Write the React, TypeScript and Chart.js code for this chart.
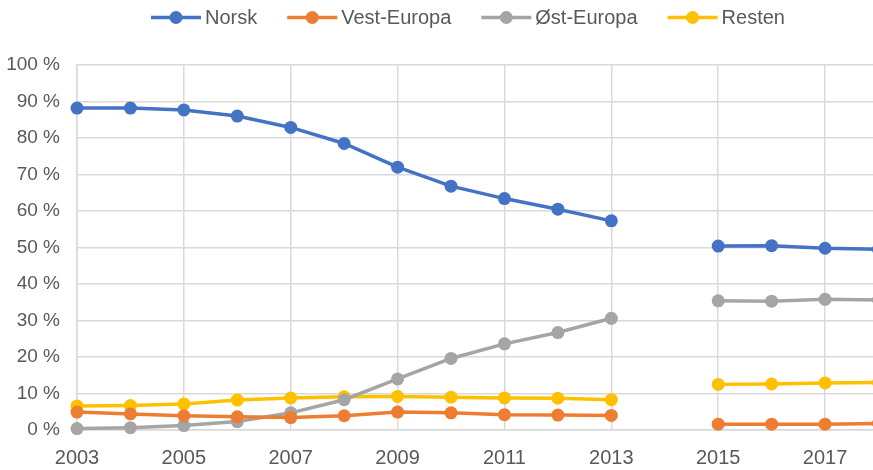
import React, { useEffect, useRef } from 'react';
import { Chart, registerables } from 'chart.js';

Chart.register(...registerables);

const years = ['2003', '2004', '2005', '2006', '2007', '2008', '2009', '2010', '2011', '2012', '2013', '2014', '2015', '2016', '2017', '2018'];
const norsk = [88.2, 88.2, 87.7, 86.0, 82.9, 78.5, 72.0, 66.8, 63.4, 60.5, 57.3, null, 50.4, 50.5, 49.8, 49.5];
const vestEuropa = [4.9, 4.4, 3.9, 3.6, 3.4, 3.9, 4.9, 4.7, 4.2, 4.1, 4.0, null, 1.6, 1.6, 1.6, 1.8];
const ostEuropa = [0.4, 0.65, 1.2, 2.3, 4.7, 8.3, 14.0, 19.6, 23.6, 26.7, 30.6, null, 35.4, 35.3, 35.8, 35.6];
const resten = [6.6, 6.7, 7.1, 8.2, 8.8, 9.1, 9.2, 9.0, 8.8, 8.7, 8.3, null, 12.5, 12.6, 12.9, 13.0];
const seriesNames = ['Norsk', 'Vest-Europa', 'Øst-Europa', 'Resten'];
const seriesColors = ['#4472C4', '#ED7D31', '#A5A5A5', '#FFC000'];
const yMin = 0;
const yMax = 100;
const yStep = 10;

const FONT = '"Liberation Sans", Arial, sans-serif';
const TEXT = '#595959';
const GRID = '#d9d9d9';

const legendPlugin = {
  id: 'customLegend',
  afterDraw(chart: any) {
    const ctx = chart.ctx;
    ctx.save();
    let x = 151;
    const y = 17.5;
    ctx.font = '20px ' + FONT;
    ctx.textBaseline = 'middle';
    ctx.textAlign = 'left';
    chart.data.datasets.forEach((ds: any) => {
      ctx.strokeStyle = ds.borderColor;
      ctx.lineWidth = 3.5;
      ctx.beginPath();
      ctx.moveTo(x, y);
      ctx.lineTo(x + 50, y);
      ctx.stroke();
      ctx.fillStyle = ds.borderColor;
      ctx.beginPath();
      ctx.arc(x + 25, y, 6.5, 0, Math.PI * 2);
      ctx.fill();
      const tx = x + 54;
      const w = ctx.measureText(ds.label).width;
      ctx.fillStyle = TEXT;
      ctx.fillText(ds.label, tx, y + 1);
      x = tx + w + 30;
    });
    ctx.restore();
  },
};

export default function App() {
  const ref = useRef<HTMLCanvasElement | null>(null);
  useEffect(() => {
    if (!ref.current) return;
    const series = [norsk, vestEuropa, ostEuropa, resten];
    const chart = new Chart(ref.current, {
      type: 'line',
      data: {
        labels: years,
        datasets: series.map((d, i) => ({
          label: seriesNames[i],
          data: d,
          borderColor: seriesColors[i],
          backgroundColor: seriesColors[i],
          pointBackgroundColor: seriesColors[i],
          pointBorderColor: seriesColors[i],
          borderWidth: 3.5,
          pointRadius: 6.5,
          pointBorderWidth: 0,
          spanGaps: false,
          clip: false,
          tension: 0,
        })),
      },
      options: {
        responsive: false,
        animation: false,
        events: [],
        layout: { padding: { top: 65, right: 2, left: 0, bottom: 0 } },
        plugins: {
          legend: { display: false },
          tooltip: { enabled: false },
        },
        scales: {
          x: {
            type: 'category',
            offset: false,
            afterFit: (s: any) => { s.height = 40; s.paddingRight = 0; },
            grid: {
              drawTicks: false,
              lineWidth: 1.5,
              color: (c: any) => (c.index % 2 === 0 ? GRID : 'rgba(0,0,0,0)'),
            },
            border: { color: GRID, width: 1.5 },
            ticks: {
              autoSkip: false,
              maxRotation: 0,
              padding: 16,
              color: TEXT,
              font: { family: FONT, size: 20 },
              callback: (_v: any, i: number) => (i % 2 === 0 ? years[i] : ''),
            },
          },
          y: {
            min: yMin,
            max: yMax,
            afterFit: (s: any) => { s.width = 77; },
            grid: { drawTicks: false, color: GRID, lineWidth: 1.5 },
            border: { color: GRID, width: 1.5 },
            ticks: {
              stepSize: yStep,
              padding: 17,
              color: TEXT,
              font: { family: FONT, size: 19 },
              callback: (v: any) => v + ' %',
            },
          },
        },
      },
      plugins: [legendPlugin],
    } as any);
    return () => chart.destroy();
  }, []);
  return (
    <div style={{ position: 'absolute', left: 0, top: 0, width: 873, height: 470, overflow: 'hidden', background: '#fff' }}>
      <canvas ref={ref} width={885} height={470} style={{ display: 'block', width: 885, height: 470 }} />
    </div>
  );
}
